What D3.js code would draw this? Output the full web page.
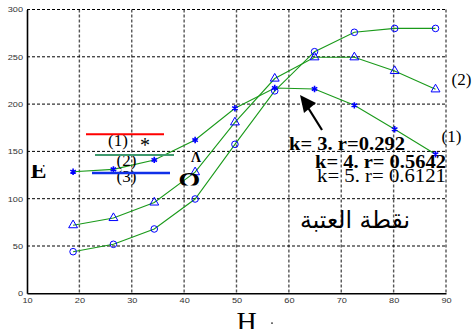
<!DOCTYPE html>
<html><head><meta charset="utf-8">
<script src="https://cdn.jsdelivr.net/npm/d3@7"></script>
<style>body{margin:0;background:#fff}svg{display:block}</style>
</head><body>
<svg id="c" width="475" height="329"></svg>
<script>
const xValues = [18.8, 26.5, 34.3, 42.1, 49.7, 57.3, 64.9, 72.5, 80.2, 88.0];
const seriesStar = [128.5, 131, 141, 162, 195.6, 217, 216, 198.7, 173.4, 147];
const seriesTri = [72, 79.6, 96, 128, 180.7, 227, 249.5, 249.5, 235, 215.6];
const seriesCircle = [44, 51.8, 68, 99.7, 157.5, 214, 255.4, 275.9, 280, 280];
const xTicks = [10, 20, 30, 40, 50, 60, 70, 80, 90];
const yTicks = [0, 50, 100, 150, 200, 250, 300];

const svg = d3.select("#c");
const x = d3.scaleLinear().domain([10, 90]).range([27, 446]);
const y = d3.scaleLinear().domain([0, 300]).range([293.3, 9.5]);
const serif = "'Liberation Serif','Times New Roman',serif";

const defs = svg.append("defs");
defs.append("clipPath").attr("id","clipE").append("rect").attr("x",0).attr("y",165).attr("width",100).attr("height",40);
defs.append("clipPath").attr("id","clipO").append("rect").attr("x",150).attr("y",150).attr("width",100).attr("height",35.5);

// grid
const g = svg.append("g");
g.selectAll(".vg").data(xTicks.filter(d => d > 10)).enter().append("line")
  .attr("x1", d => x(d)).attr("x2", d => x(d)).attr("y1", y(300)).attr("y2", y(0))
  .attr("stroke", "#555").attr("stroke-width", 1.4).attr("stroke-dasharray", "3,2");
g.selectAll(".hg").data(yTicks.filter(d => d > 0)).enter().append("line")
  .attr("x1", x(10)).attr("x2", x(90)).attr("y1", d => y(d)).attr("y2", d => y(d))
  .attr("stroke", "#000").attr("stroke-width", 1).attr("stroke-dasharray", "3,2");

// axes
const xAxis = d3.axisBottom(x).tickValues(xTicks).tickSize(0).tickPadding(4);
const yAxis = d3.axisLeft(y).tickValues(yTicks).tickSize(0).tickPadding(3);
const gx = svg.append("g").attr("transform", `translate(0,${y(0)})`).call(xAxis);
const gy = svg.append("g").attr("transform", `translate(${x(10)},0)`).call(yAxis);
[gx, gy].forEach(a => {
  a.select(".domain").attr("stroke", "#000").attr("stroke-width", 1.6);
  a.selectAll("text").attr("font-family", "'Liberation Sans',Arial,sans-serif")
    .attr("font-size", 7.5).attr("fill", "#333")
    .attr("textLength", function(){ return this.textContent.length * 5.1; })
    .attr("lengthAdjust", "spacingAndGlyphs");
});
gy.selectAll("text").attr("dx", -1);

// lines
const line = d3.line().x((d, i) => x(xValues[i])).y(d => y(d));
[seriesStar, seriesTri, seriesCircle].forEach(s => {
  svg.append("path").datum(s).attr("d", line).attr("fill", "none")
    .attr("stroke", "#1a9a1a").attr("stroke-width", 1.1);
});

// markers
const blue = "#0000ff";
svg.selectAll(".st").data(seriesStar).enter().append("path")
  .attr("d", d3.symbol().type(d3.symbolAsterisk).size(28))
  .attr("transform", (d, i) => `translate(${x(xValues[i])},${y(d)})`)
  .attr("fill", "none").attr("stroke", blue).attr("stroke-width", 1.6);
svg.selectAll(".tr").data(seriesTri).enter().append("path")
  .attr("d", d3.symbol().type(d3.symbolTriangle).size(34))
  .attr("transform", (d, i) => `translate(${x(xValues[i])},${y(d)})`)
  .attr("fill", "none").attr("stroke", blue).attr("stroke-width", 1);
svg.selectAll(".ci").data(seriesCircle).enter().append("circle")
  .attr("cx", (d, i) => x(xValues[i])).attr("cy", d => y(d)).attr("r", 3.3)
  .attr("fill", "none").attr("stroke", blue).attr("stroke-width", 1);

// annotations
function txt(t, px, py, size, opts = {}) {
  const e = svg.append("text").attr("x", px).attr("y", py).text(t)
    .attr("font-family", opts.family || serif).attr("font-size", size)
    .attr("fill", opts.fill || "#000");
  if (opts.bold) e.attr("font-weight", "bold");
  if (opts.anchor) e.attr("text-anchor", opts.anchor);
  if (opts.len) e.attr("textLength", opts.len).attr("lengthAdjust", "spacingAndGlyphs");
  if (opts.clip) e.attr("clip-path", `url(#${opts.clip})`);
  return e;
}
txt("(1)", 108, 145.5, 17);
txt("*", 140, 152, 20);
txt("(2)", 116.5, 166, 17);
txt("(3)", 116.5, 182, 17);
svg.append("line").attr("x1", 86).attr("x2", 164).attr("y1", 134.3).attr("y2", 134.3)
  .attr("stroke", "#ff0000").attr("stroke-width", 2);
svg.append("line").attr("x1", 95).attr("x2", 174).attr("y1", 155).attr("y2", 155)
  .attr("stroke", "#3f9a6e").attr("stroke-width", 2);
svg.append("line").attr("x1", 92).attr("x2", 170).attr("y1", 173).attr("y2", 173)
  .attr("stroke", "#1030e8").attr("stroke-width", 2.5);

txt("E", 30.5, 178, 24, {bold: true, clip: "clipE"});
txt("Λ", 191, 162, 14, {bold: true});
txt("Ω", 178.5, 191, 27, {bold: true, clip: "clipO"});

// arrow
svg.append("line").attr("x1", 322).attr("y1", 130).attr("x2", 307).attr("y2", 106)
  .attr("stroke", "#000").attr("stroke-width", 2.2);
svg.append("path").attr("d", "M300,95 L316,103 L304,113 Z").attr("fill", "#000");

txt("k= 3. r=0.292", 289, 150, 19, {bold: true, len: 116});
txt("k= 4. r= 0.5642", 315, 168, 19, {bold: true, len: 131});
txt("k= 5. r= 0.6121", 317, 182, 19, {len: 129});

txt("(2)", 451.5, 85, 17);
txt("(1)", 441.5, 141.5, 17);

txt("نقطة العتبة", 355, 228, 24, {family: "'DejaVu Sans',sans-serif", anchor: "middle", len: 110});

txt("H", 236.5, 331, 28);
svg.append("rect").attr("x", 271).attr("y", 322.5).attr("width", 2).attr("height", 1.2).attr("fill", "#333");
</script>
</body></html>
